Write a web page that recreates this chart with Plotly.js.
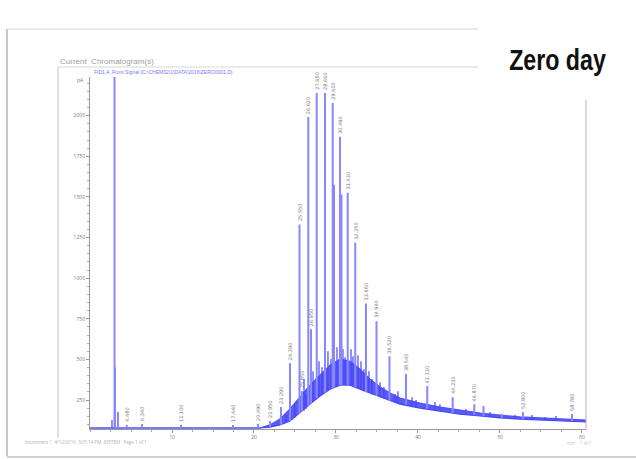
<!DOCTYPE html>
<html>
<head>
<meta charset="utf-8">
<script src="https://cdn.plot.ly/plotly-3.0.1.min.js"></script>
<style>html,body{margin:0;padding:0;background:#fff}#chart{width:636px;height:459px}</style>
</head>
<body>
<div id="chart"></div>
<script>
// ---- data (retention time in min, signal in pA) ----
const peakTimes  = [2.99, 3.05, 3.41, 4.48, 6.34, 11.10, 17.44, 20.49, 21.95, 23.29, 24.39, 25.55, 25.85, 26.62, 26.95, 27.65, 28.66, 29.60, 29.76, 30.49, 30.67, 31.43, 32.35, 33.66, 34.94, 36.52, 38.54, 41.13, 44.23, 46.87, 47.99, 50.24, 52.80, 58.78];
const peakTops   = [2300, 452, 176, 97, 103, 97, 97, 103, 121, 207, 477, 1330, 305, 1992, 686, 2140, 2140, 2078, 1575, 1870, 1514, 1526, 1219, 845, 735, 520, 410, 336, 268, 225, 213, 164, 176, 164];
const peakBases  = [78, 78, 78, 78, 78, 78, 78, 78, 84, 97, 121, 165, 180, 215, 230, 262, 297, 323, 327, 342, 342, 342, 328, 298, 275, 245, 220, 198, 172, 157, 150, 139, 132, 120];
const peakLabeled= [0, 0, 0, 1, 1, 1, 1, 1, 1, 1, 1, 1, 1, 1, 1, 1, 1, 1, 0, 1, 0, 1, 1, 1, 1, 1, 1, 1, 1, 1, 0, 0, 1, 1];

const minorTimes = [2.68, 23.90, 25.00, 26.10, 26.34, 27.20, 27.93, 28.29, 29.02, 29.39, 30.12, 30.85, 31.10, 31.83, 32.07, 32.68, 33.05, 33.41, 34.02, 34.39, 35.37, 35.85, 37.20, 37.56, 39.27, 39.76, 42.07, 42.68, 45.85, 48.78, 51.83, 53.90, 55.49, 56.83];
const minorTops  = [127, 164, 225, 379, 287, 428, 489, 452, 551, 502, 575, 563, 514, 563, 520, 526, 489, 440, 428, 379, 360, 330, 287, 305, 268, 250, 238, 225, 195, 176, 158, 158, 146, 152];
const minorBases = [78, 110, 145, 185, 195, 245, 270, 285, 310, 320, 335, 342, 342, 342, 338, 325, 315, 305, 295, 285, 268, 258, 235, 230, 210, 205, 188, 183, 161, 146, 135, 130, 126, 122];

const envTimes = [0, 20.73, 21.95, 23.17, 24.39, 25.61, 26.83, 28.05, 29.27, 30.49, 31.71, 32.93, 34.15, 35.37, 36.59, 37.80, 40.24, 42.68, 45.12, 47.56, 50.00, 52.44, 54.88, 57.32, 60.49];
const envLower = [78, 78, 84, 97, 121, 170, 225, 275, 317, 342, 342, 317, 293, 268, 244, 225, 201, 183, 164, 152, 140, 133, 127, 121, 115];
const envUpper = [78, 78, 97, 133, 195, 268, 342, 403, 465, 502, 489, 440, 379, 330, 293, 262, 232, 207, 189, 170, 158, 146, 140, 133, 127];

const xTickVals = [10, 20, 30, 40, 50, 60];
const xTickText = ["10", "20", "30", "40", "50", "60"];
const yTickVals = [250, 500, 750, 1000, 1250, 1500, 1750, 2000];
const yTickText = ["250", "500", "750", "1000", "1250", "1500", "1750", "2000"];

// ---- build traces ----
function segs(times, bases, tops) {
  const x = [], y = [];
  for (let i = 0; i < times.length; i++) {
    x.push(times[i], times[i], null);
    y.push(bases[i], tops[i], null);
  }
  return {x, y};
}
const maj = segs(peakTimes, peakBases, peakTops);
const mino = segs(minorTimes, minorBases, minorTops);

const traces = [
  {x: envTimes, y: envLower, mode: 'lines', line: {color: 'rgb(70,70,250)', width: 1.2}, hoverinfo: 'skip'},
  {x: envTimes, y: envUpper, mode: 'lines', fill: 'tonexty', fillcolor: 'rgba(50,50,245,0.8)', line: {color: 'rgb(80,80,250)', width: 1.2}, hoverinfo: 'skip'},
  {x: mino.x, y: mino.y, mode: 'lines', line: {color: 'rgb(70,70,248)', width: 1.2}, hoverinfo: 'skip'},
  {x: maj.x, y: maj.y, mode: 'lines', line: {color: 'rgb(135,135,255)', width: 2}, hoverinfo: 'skip'}
];

// ---- layout helpers ----
const L = 90, R = 586, T = 77, B = 429;
function px(x) { return (x - L) / (R - L); }
function py(y) { return (B - y) / (B - T); }
function line(x0, y0, x1, y1, color, w) {
  return {type: 'line', xref: 'paper', yref: 'paper', x0: px(x0), y0: py(y0), x1: px(x1), y1: py(y1), line: {color: color, width: w}};
}

const annotations = [];
for (let i = 0; i < peakTimes.length; i++) {
  if (!peakLabeled[i]) continue;
  annotations.push({x: peakTimes[i], y: peakTops[i], xref: 'x', yref: 'y', text: peakTimes[i].toFixed(3),
    textangle: -90, xanchor: 'center', yanchor: 'bottom', yshift: 1, showarrow: false,
    font: {size: 5, color: '#777', family: 'DejaVu Sans'}});
}
annotations.push(
  {xref: 'paper', yref: 'paper', x: px(58), y: py(62), text: 'Current  Chromatogram(s)', showarrow: false, xanchor: 'left', yanchor: 'middle', font: {size: 8, color: '#a0a0a0', family: 'Liberation Sans'}},
  {xref: 'paper', yref: 'paper', x: px(92), y: py(71.5), text: 'FID1 A, Front Signal (C:\\CHEM32\\1\\DATA\\2016\\ZERO0001.D)', showarrow: false, xanchor: 'left', yanchor: 'middle', font: {size: 5, color: 'rgb(120,120,255)', family: 'Liberation Sans'}},
  {xref: 'paper', yref: 'paper', x: px(557), y: py(60), text: 'Zero day', showarrow: false, xanchor: 'center', yanchor: 'middle', font: {size: 29, color: '#111', family: 'Liberation Sans', weight: 700}},
  {xref: 'paper', yref: 'y', x: 0, y: 2219, text: 'pA', showarrow: false, xanchor: 'right', xshift: -4, font: {size: 5, color: '#777'}},
  {xref: 'paper', yref: 'paper', x: px(23), y: py(442), text: 'Instrument 1  4/12/2016  3:01:14 PM  SYSTEM   Page 1 of 1', showarrow: false, xanchor: 'left', yanchor: 'middle', font: {size: 4.5, color: '#b0b0b0'}},
  {xref: 'paper', yref: 'paper', x: px(565), y: py(443), text: 'min    1 of 1', showarrow: false, xanchor: 'left', yanchor: 'middle', font: {size: 4.5, color: '#bbbbbb'}}
);

const shapes = [
  line(7, 29, 7, 456, '#c8c8c8', 2),
  line(7, 29, 478, 29, '#e2e2e2', 1.5),
  line(7, 457, 636, 457, '#d0d0d0', 2),
  line(58, 67, 58, 438, '#c4c4c4', 1),
  line(58, 67, 478, 67, '#d6d6d6', 1),
  line(586, 100, 586, 430, 'rgb(205,170,170)', 1)
];

const layout = {
  width: 636, height: 459,
  margin: {l: L, r: 636 - R, t: T, b: 459 - B, pad: 0},
  paper_bgcolor: '#fff', plot_bgcolor: '#fff',
  showlegend: false,
  xaxis: {range: [0, 60.49], tickvals: xTickVals, ticktext: xTickText, ticks: 'outside', ticklen: 3, tickcolor: '#999',
    tickfont: {size: 5, color: '#777'}, showgrid: false, zeroline: false, showline: true, linecolor: '#999', linewidth: 1,
    minor: {tick0: 0, dtick: 2.5, ticks: 'outside', ticklen: 2, tickcolor: '#aaa', showgrid: false}},
  yaxis: {range: [72, 2238], tickvals: yTickVals, ticktext: yTickText, ticks: 'outside', ticklen: 3, tickcolor: '#999',
    tickfont: {size: 5, color: '#777'}, showgrid: false, zeroline: false, showline: true, linecolor: '#999', linewidth: 1,
    minor: {tick0: 0, dtick: 50, ticks: 'outside', ticklen: 2, tickcolor: '#aaa', showgrid: false}},
  shapes: shapes,
  annotations: annotations
};

Plotly.newPlot('chart', traces, layout, {staticPlot: true, displayModeBar: false}).then(function () {
  // condense the "Zero day" caption horizontally to match the narrow typeface of the original
  document.querySelectorAll('.annotation-text').forEach(function (t) {
    if (t.textContent === 'Zero day') {
      t.style.transformBox = 'fill-box';
      t.style.transformOrigin = 'center';
      t.style.transform = 'scaleX(0.8)';
    }
  });
});
</script>
</body>
</html>
